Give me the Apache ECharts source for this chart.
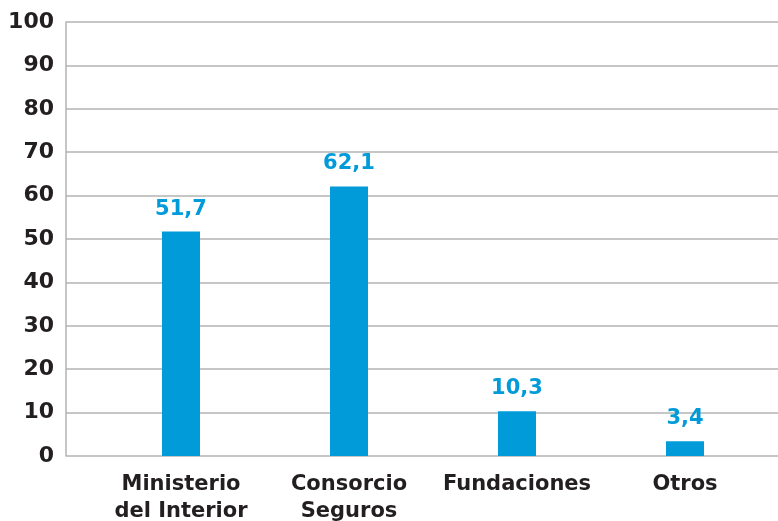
<!DOCTYPE html>
<html>
<head>
<meta charset="utf-8">
<script src="https://cdn.jsdelivr.net/npm/echarts@6/dist/echarts.min.js"></script>
<style>
  html, body { margin: 0; padding: 0; background: #fff; }
  #chart { width: 778px; height: 521px; }
</style>
</head>
<body>
<div id="chart"></div>
<script>
// datos del gráfico
var categorias = ["Ministerio\ndel Interior", "Consorcio\nSeguros", "Fundaciones", "Otros"];
var valores = [51.7, 62.1, 10.3, 3.4];
var ejeMin = 0;
var ejeMax = 100;
var ejeIntervalo = 10;

var azul = "#009bd8";
var gris = "#b3b3b3";
var texto = "#231f20";
var fuente = "DejaVu Sans";

var myChart = echarts.init(document.getElementById("chart"));
var option = {
  backgroundColor: "#fff",
  animation: false,
  grid: [
    // grid 0: eje Y y líneas de cuadrícula
    { left: 66, top: 22, width: 730, bottom: 65, containLabel: false, outerBoundsMode: "none" },
    // grid 1: barras y categorías
    { left: 97, top: 22, width: 672, bottom: 65, containLabel: false, outerBoundsMode: "none" }
  ],
  xAxis: [
    {
      gridIndex: 0,
      type: "category",
      data: [""],
      show: false
    },
    {
      gridIndex: 1,
      type: "category",
      data: categorias,
      axisLine: { show: false },
      axisTick: { show: false },
      axisLabel: {
        color: texto,
        fontFamily: fuente,
        fontWeight: "bold",
        fontSize: 21,
        lineHeight: 27,
        margin: 15,
        interval: 0
      }
    }
  ],
  yAxis: [
    {
      gridIndex: 0,
      type: "value",
      min: ejeMin,
      max: ejeMax,
      interval: ejeIntervalo,
      axisLine: { show: true, lineStyle: { color: gris, width: 1.5 } },
      axisTick: { show: false },
      axisLabel: {
        color: texto,
        fontFamily: fuente,
        fontWeight: "bold",
        fontSize: 22,
        margin: 12
      },
      splitLine: { show: true, lineStyle: { color: gris, width: 1.5 } }
    },
    {
      gridIndex: 1,
      type: "value",
      min: ejeMin,
      max: ejeMax,
      show: false
    }
  ],
  series: [
    {
      type: "bar",
      xAxisIndex: 1,
      yAxisIndex: 1,
      data: valores,
      barWidth: 38,
      itemStyle: { color: azul },
      label: {
        show: true,
        position: "top",
        distance: 12,
        color: azul,
        fontFamily: fuente,
        fontWeight: "bold",
        fontSize: 21,
        formatter: function (p) {
          return String(p.value).replace(".", ",");
        }
      }
    }
  ]
};
myChart.setOption(option);
</script>
</body>
</html>
